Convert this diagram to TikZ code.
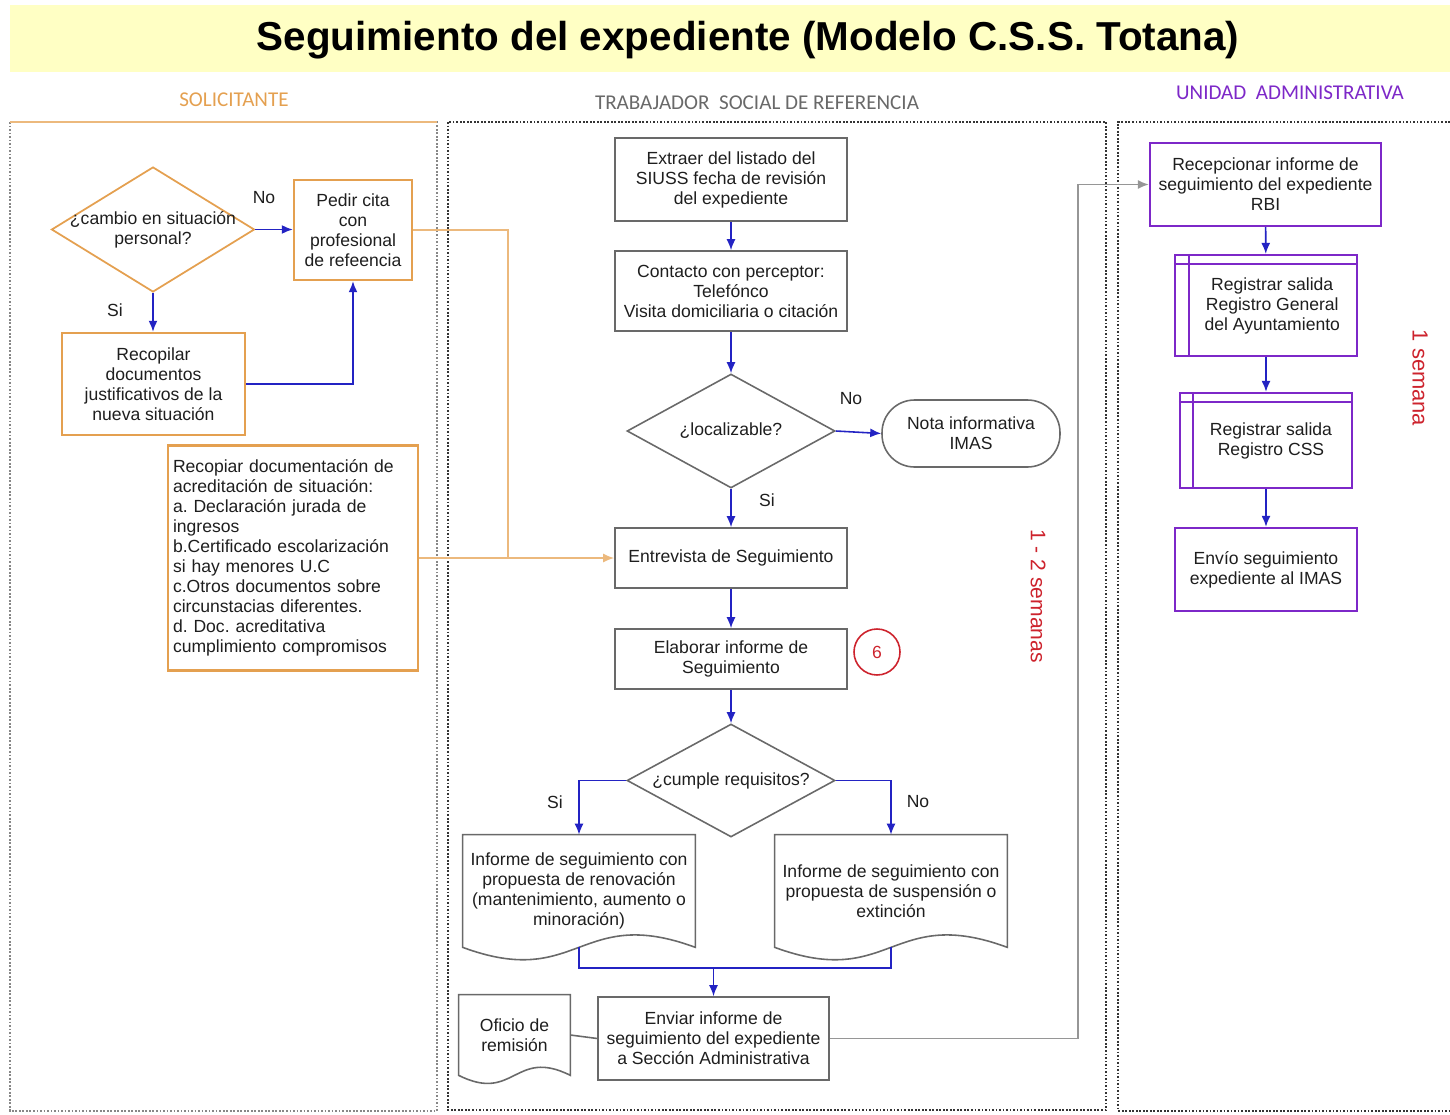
\documentclass[tikz,border=0pt]{standalone}
\usepackage{fontspec}
\setmainfont{Liberation Sans}
\newfontfamily\carlito{Carlito}
\usetikzlibrary{shapes.geometric,arrows.meta,calc}
\frenchspacing

\definecolor{gris}{RGB}{105,105,105}
\definecolor{naranja}{RGB}{228,160,80}
\definecolor{naranjaclaro}{RGB}{236,185,125}
\definecolor{morado}{RGB}{125,40,200}
\definecolor{azul}{RGB}{35,35,195}
\definecolor{rojo}{RGB}{205,35,45}
\definecolor{amarillo}{RGB}{255,255,196}
\definecolor{texto}{RGB}{30,30,30}

\tikzset{
  caja/.style={draw=gris, line width=0.9pt, align=center, inner sep=2pt, text=texto, font=\fontsize{10}{11.4}\selectfont},
  cajanar/.style={caja, draw=naranja, line width=1.4pt},
  cajamor/.style={caja, draw=morado, line width=1.3pt},
  decision/.style={caja, diamond, aspect=1.65, inner xsep=-0.5cm, inner ysep=0pt},
  hojadoc/.style={align=center, inner sep=0pt, text=texto, font=\fontsize{10}{11.4}\selectfont},
  rotulo/.style={text=texto, font=\fontsize{10}{12}\selectfont, inner sep=1pt},
  flujo/.style={draw=azul, line width=0.9pt, -{Latex[length=2.2mm,width=1.8mm]}},
  flujonar/.style={draw=naranjaclaro, line width=1pt, -{Latex[length=2.2mm,width=1.8mm]}},
  flujogris/.style={draw=gris!70, line width=0.9pt, -{Latex[length=2.2mm,width=1.8mm]}},
  carril/.style={draw=gris!80, line width=0.6pt, dash pattern=on 1pt off 1pt},
  semanas/.style={text=rojo, rotate=-90, font=\fontsize{12}{14}\selectfont},
  cabecera/.style={font=\carlito\fontsize{12}{14}\selectfont},
}

% contorno de documento con borde ondulado
\newcommand{\hoja}[3][]{%
  \draw[#1] (#2.north west) -- (#2.north east) -- (#2.south east)
    .. controls ($(#2.south)+(0,-#3)$) and ($(#2.south)+(0,#3)$) .. (#2.south west) -- cycle;}

\begin{document}
\begin{tikzpicture}[x=0.02cm, y=-0.02cm]
\useasboundingbox (0,0) rectangle (1450,1115);

\fill[amarillo] (10,5) rectangle (1450,72);
\node[font=\bfseries\fontsize{23}{26}\selectfont] (titulo) at (748,40) {Seguimiento del expediente (Modelo C.S.S. Totana)};

\node[cabecera, text=naranja] (cabsol) at (234,100) {SOLICITANTE};
\node[cabecera, text=gris] (cabtra) at (757,103) {TRABAJADOR\ \ SOCIAL DE REFERENCIA};
\node[cabecera, text=morado] (cabuni) at (1290,93) {UNIDAD\ \ ADMINISTRATIVA};

\draw[carril] (10,122) rectangle (437,1111);
\draw[naranjaclaro, line width=1.2pt] (10,122) -- (437,122);
\draw[carril, draw=gris!50!black] (448,122) rectangle (1106,1110);
\draw[carril, draw=gris!50!black] (1450,122) -- (1118,122) -- (1118,1111) -- (1450,1111);

% solicitante
\node[decision, draw=naranja, line width=1pt, minimum width=4.06cm, minimum height=2.5cm] (cambio) at (153,229.5) {¿cambio en situación\\personal?};
\node[cajanar, minimum width=2.36cm, minimum height=2cm] (pedir) at (353,230) {Pedir cita\\con\\profesional\\de refeencia};
\node[cajanar, minimum width=3.66cm, minimum height=2.04cm] (recopilar) at (153.5,384) {Recopilar\\documentos\\justificativos de la\\nueva situación};
\node[cajanar, text width=4.8cm, align=left, inner xsep=3pt, minimum height=4.5cm] (recopiar) at (293,558) {Recopiar documentación de\\acreditación de situación:\\a. Declaración jurada de\\ingresos\\b.Certificado escolarización\\si hay menores U.C\\c.Otros documentos sobre\\circunstacias diferentes.\\d. Doc. acreditativa\\cumplimiento compromisos};

\node[rotulo] (no1) at (264,198) {No};
\node[rotulo] (si1) at (115,310) {Si};

\draw[flujo] (cambio.east) -- (cambio.east -| pedir.west);
\draw[flujo] (cambio.south) -- (cambio.south |- recopilar.north);
\draw[flujo] (recopilar.east) -| (pedir.south);

\coordinate (cruce) at (508,558);
\draw[naranjaclaro, line width=1pt] (pedir.east) -| (cruce);

% trabajador social
\node[caja, minimum width=4.64cm, minimum height=1.66cm] (extraer) at (731,179.5) {Extraer del listado del\\SIUSS fecha de revisión\\del expediente};
\node[caja, minimum width=4.64cm, minimum height=1.6cm] (contacto) at (731,291) {Contacto con perceptor:\\Telefónco\\Visita domiciliaria o citación};
\node[decision, minimum width=4.16cm, minimum height=2.28cm] (localiza) at (731,431) {¿localizable?};
\node[caja, rounded corners=0.65cm, minimum width=3.56cm, minimum height=1.34cm] (nota) at (971,433.5) {Nota informativa\\IMAS};
\node[caja, minimum width=4.64cm, minimum height=1.2cm] (entrevista) at (731,558) {Entrevista de Seguimiento};
\node[caja, minimum width=4.64cm, minimum height=1.2cm] (elaborar) at (731,659) {Elaborar informe de\\Seguimiento};
\node[circle, draw=rojo, line width=0.9pt, minimum size=0.92cm, text=rojo, font=\fontsize{10}{12}\selectfont] (seis) at (877,652) {6};
\node[decision, minimum width=4.16cm, minimum height=2.26cm] (cumple) at (731,780.5) {¿cumple requisitos?};
\node[hojadoc, minimum width=4.64cm, minimum height=2.24cm] (renov) at (579,891) {Informe de seguimiento con\\propuesta de renovación\\(mantenimiento, aumento o\\minoración)};
\node[hojadoc, minimum width=4.64cm, minimum height=2.24cm] (susp) at (891,891) {Informe de seguimiento con\\propuesta de suspensión o\\extinción};
\node[caja, minimum width=4.62cm, minimum height=1.66cm] (enviar) at (713.5,1038.5) {Enviar informe de\\seguimiento del expediente\\a Sección Administrativa};
\node[hojadoc, minimum width=2.22cm, minimum height=1.6cm] (oficio) at (514.5,1035) {Oficio de\\remisión};

\hoja[draw=gris, line width=0.9pt]{renov}{43}
\hoja[draw=gris, line width=0.9pt]{susp}{43}
\hoja[draw=gris, line width=0.9pt]{oficio}{28}

\node[rotulo] (no2) at (851,399) {No};
\node[rotulo] (si2) at (767,500) {Si};
\node[rotulo] (si3) at (555,802) {Si};
\node[rotulo] (no3) at (918,802) {No};
\node[semanas] (plazo1) at (1038,596) {1 - 2 semanas};

\draw[flujo] (extraer) -- (contacto);
\draw[flujo] (contacto) -- (localiza);
\draw[flujo] (localiza.east) -- (nota.west);
\draw[flujo] (localiza) -- (entrevista);
\draw[flujo] (entrevista) -- (elaborar);
\draw[flujo] (elaborar) -- (cumple);
\draw[flujo] (cumple.west) -| (renov.north);
\draw[flujo] (cumple.east) -| (susp.north);
\draw[flujonar] (recopiar.east) -- (entrevista.west);

\coordinate (union) at (713.5,968);
\draw[draw=azul, line width=0.9pt] (renov.south) |- (union) -| (susp.south);
\draw[flujo] (union) -- (enviar.north);
\draw[draw=gris, line width=0.9pt] (oficio.east) -- (enviar.west);

% unidad administrativa
\node[cajamor, minimum width=4.62cm, minimum height=1.66cm] (recep) at (1265.5,184.5) {Recepcionar informe de\\seguimiento del expediente\\RBI};
\node[cajamor, minimum width=3.64cm, minimum height=2.02cm] (reggen) at (1266,305.5) {\hspace*{0.25cm}Registrar salida\\\hspace*{0.25cm}Registro General\\\hspace*{0.25cm}del Ayuntamiento};
\node[cajamor, minimum width=3.44cm, minimum height=1.9cm] (regcss) at (1266,440.5) {\hspace*{0.2cm}Registrar salida\\\hspace*{0.2cm}Registro CSS};
\node[cajamor, minimum width=3.64cm, minimum height=1.66cm] (envio) at (1266,569.5) {Envío seguimiento\\expediente al IMAS};

\draw[morado, line width=1.1pt] ([xshift=0.3cm]reggen.north west) -- ([xshift=0.3cm]reggen.south west);
\draw[morado, line width=1.1pt] ([yshift=-0.2cm]reggen.north west) -- ([yshift=-0.2cm]reggen.north east);
\draw[morado, line width=1.1pt] ([xshift=0.28cm]regcss.north west) -- ([xshift=0.28cm]regcss.south west);
\draw[morado, line width=1.1pt] ([yshift=-0.2cm]regcss.north west) -- ([yshift=-0.2cm]regcss.north east);

\node[semanas, font=\fontsize{12.5}{14}\selectfont] (plazo2) at (1420,378) {1 semana};

\draw[flujo] (recep) -- (reggen);
\draw[flujo] (reggen) -- (regcss);
\draw[flujo] (regcss) -- (envio);

\coordinate (subida) at (1078,184.5);
\draw[flujogris] (enviar.east) -| (subida) -- (recep.west);

\end{tikzpicture}
\end{document}
